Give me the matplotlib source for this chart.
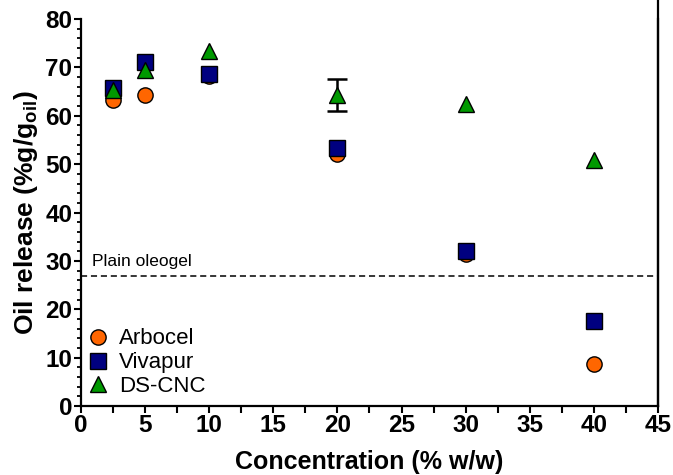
import matplotlib
matplotlib.use('Agg')
import matplotlib.pyplot as plt
from matplotlib.ticker import MultipleLocator
from matplotlib.lines import Line2D

plt.rcParams['font.family'] = ['Liberation Sans', 'DejaVu Sans']
plt.rcParams['mathtext.fontset'] = 'custom'
plt.rcParams['mathtext.rm'] = 'Liberation Sans:bold'
plt.rcParams['mathtext.bf'] = 'Liberation Sans:bold'

# concentration en % w/w et libération d'huile (% g/g oil)
conc = [2.5, 5, 10, 20, 30, 40]
arbocel = [63.3, 64.2, 68.2, 52.0, 31.5, 8.7]
vivapur = [65.7, 71.1, 68.6, 53.3, 32.0, 17.6]
dscnc = [65.3, 69.4, 73.4, 64.2, 62.5, 50.8]
# seul le point à 20 % a une barre d'erreur visible
err_conc = [20]
err_val = [64.2]
err_sd = [3.3]
plain_oleogel = 26.8

fig = plt.figure(figsize=(6.73, 4.75), dpi=100)
ax = fig.add_axes([0.120, 0.145, 0.858, 0.815])

ax.errorbar(err_conc, err_val, yerr=err_sd, fmt='none', ecolor='black',
            elinewidth=1.8, capsize=7, capthick=1.8, zorder=2.5)
ax.plot(conc, arbocel, 'o', color='#ff6600', markersize=11,
        markeredgecolor='black', markeredgewidth=1.0, label='Arbocel', zorder=3)
ax.plot(conc, vivapur, 's', color='#000080', markersize=11,
        markeredgecolor='black', markeredgewidth=1.0, label='Vivapur', zorder=4)
ax.plot(conc, dscnc, '^', color='#009900', markersize=12,
        markeredgecolor='black', markeredgewidth=1.0, label='DS-CNC', zorder=5)

ax.axhline(plain_oleogel, color='black', linestyle=(0, (4, 2.5)), linewidth=1.1, zorder=2)
ax.text(0.9, plain_oleogel + 1.6, 'Plain oleogel', fontsize=12.5, va='bottom', ha='left')

ax.set_xlim(0, 45)
ax.set_ylim(0, 80)
ax.xaxis.set_major_locator(MultipleLocator(5))
ax.xaxis.set_minor_locator(MultipleLocator(2.5))
ax.yaxis.set_major_locator(MultipleLocator(10))
ax.yaxis.set_minor_locator(MultipleLocator(2))

ax.spines['top'].set_visible(False)
for s in ['left', 'bottom', 'right']:
    ax.spines[s].set_linewidth(1.6)
ax.tick_params(which='major', direction='out', length=5, width=1.5, labelsize=17.5, pad=1)
ax.tick_params(which='minor', direction='out', length=3, width=1.3)
ax.tick_params(axis='x', which='minor', length=5, width=1.5)
ax.tick_params(right=False, which='both')
for lab in ax.get_xticklabels() + ax.get_yticklabels():
    lab.set_fontweight('bold')

ax.set_xlabel('Concentration (% w/w)', fontsize=18, fontweight='bold', labelpad=9)
ax.set_ylabel(r'Oil release (%g/g$_{\mathrm{oil}}$)', fontsize=19, fontweight='bold', labelpad=4)

# bord droit jusqu'en haut de la figure
fig.add_artist(Line2D([0.978, 0.978], [0.145, 1.0], color='black', linewidth=1.6))

ax.legend(loc='lower left', bbox_to_anchor=(-0.005, 0.0), frameon=False, fontsize=16,
          handlelength=1.0, handletextpad=0.45, labelspacing=0.13,
          borderaxespad=0.2, borderpad=0.2)

fig.savefig('out.png', dpi=100)
